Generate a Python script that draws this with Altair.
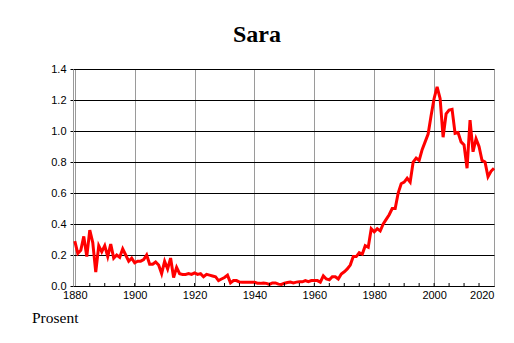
import altair as alt
import pandas as pd

years = list(range(1880, 2021))
values = [
    0.29, 0.21, 0.23, 0.32, 0.19, 0.36, 0.28, 0.09, 0.26, 0.22,
    0.26, 0.19, 0.27, 0.18, 0.20, 0.185, 0.24, 0.20, 0.16, 0.18,
    0.15, 0.16, 0.16, 0.17, 0.20, 0.14, 0.14, 0.155, 0.135, 0.08,
    0.16, 0.11, 0.18, 0.055, 0.12, 0.08, 0.075, 0.075, 0.08, 0.075,
    0.085, 0.075, 0.08, 0.06, 0.075, 0.07, 0.065, 0.06, 0.035, 0.045,
    0.055, 0.07, 0.02, 0.035, 0.035, 0.025, 0.024, 0.024, 0.025, 0.025,
    0.024, 0.018, 0.017, 0.02, 0.017, 0.01, 0.02, 0.02, 0.012, 0.01,
    0.018, 0.022, 0.025, 0.02, 0.025, 0.028, 0.027, 0.035, 0.028, 0.035,
    0.035, 0.035, 0.025, 0.065, 0.045, 0.04, 0.06, 0.06, 0.045, 0.077,
    0.092, 0.11, 0.135, 0.19, 0.19, 0.215, 0.205, 0.26, 0.25, 0.37,
    0.35, 0.37, 0.355, 0.40, 0.43, 0.46, 0.50, 0.50, 0.60, 0.66,
    0.67, 0.695, 0.67, 0.80, 0.825, 0.81, 0.88, 0.93, 0.98, 1.10,
    1.21, 1.285, 1.21, 0.96, 1.11, 1.135, 1.14, 0.985, 0.99, 0.93,
    0.91, 0.76, 1.07, 0.866, 0.95, 0.90, 0.81, 0.80, 0.705, 0.74,
    0.76,
]
grid_years = [1880, 1900, 1920, 1940, 1960, 1980, 2000, 2020]
minor_years = list(range(1885, 2020, 5))
y_ticks = [0.0, 0.2, 0.4, 0.6, 0.8, 1.0, 1.2, 1.4]
title_text = "Sara"
unit_text = "Prosent"

df = pd.DataFrame({"year": years, "value": values})
minor_df = pd.DataFrame({"year": minor_years})

W, H = 421, 217
xscale = alt.Scale(domain=[1879.4, 2020], nice=False, zero=False)
yscale = alt.Scale(domain=[0, 1.4], nice=False)

line = alt.Chart(df).mark_line(color="#ff0000", strokeWidth=3, strokeJoin="miter").encode(
    x=alt.X("year:Q", scale=xscale,
            axis=alt.Axis(values=grid_years, format="d", title=None, grid=True,
                          gridColor="#9a9a9a", gridWidth=1, domainColor="black",
                          domainWidth=1, ticks=False, labelFlush=True,
                          labelFont="Liberation Sans", labelFontSize=11,
                          labelColor="black", labelPadding=3)),
    y=alt.Y("value:Q", scale=yscale,
            axis=alt.Axis(values=y_ticks, format=".1f", title=None, grid=True,
                          gridColor="black", gridWidth=1, domainColor="#9a9a9a",
                          tickColor="black", tickSize=3, labelPadding=4,
                          labelFont="Liberation Sans", labelFontSize=11,
                          labelColor="black")),
)

minor = alt.Chart(minor_df).mark_rule(color="black", strokeWidth=1).encode(
    x=alt.X("year:Q", scale=xscale),
    y=alt.value(H),
    y2=alt.value(H - 3),
)

title = alt.Chart(pd.DataFrame({"t": [title_text]})).mark_text(
    font="Liberation Serif", fontWeight="bold", fontSize=24, color="black",
    align="center", baseline="alphabetic"
).encode(text="t:N", x=alt.value(184), y=alt.value(-27))

unit = alt.Chart(pd.DataFrame({"t": [unit_text]})).mark_text(
    font="Liberation Serif", fontSize=15.5, color="black",
    align="left", baseline="alphabetic"
).encode(text="t:N", x=alt.value(-41), y=alt.value(253.5))

chart = alt.layer(line, minor, title, unit).properties(
    width=W, height=H,
    autosize="none",
    padding={"left": 73, "top": 69, "right": 20, "bottom": 57},
).configure_view(stroke=None).configure(background="white")

chart.save("out.html", embed_options={"renderer": "svg", "actions": False})
